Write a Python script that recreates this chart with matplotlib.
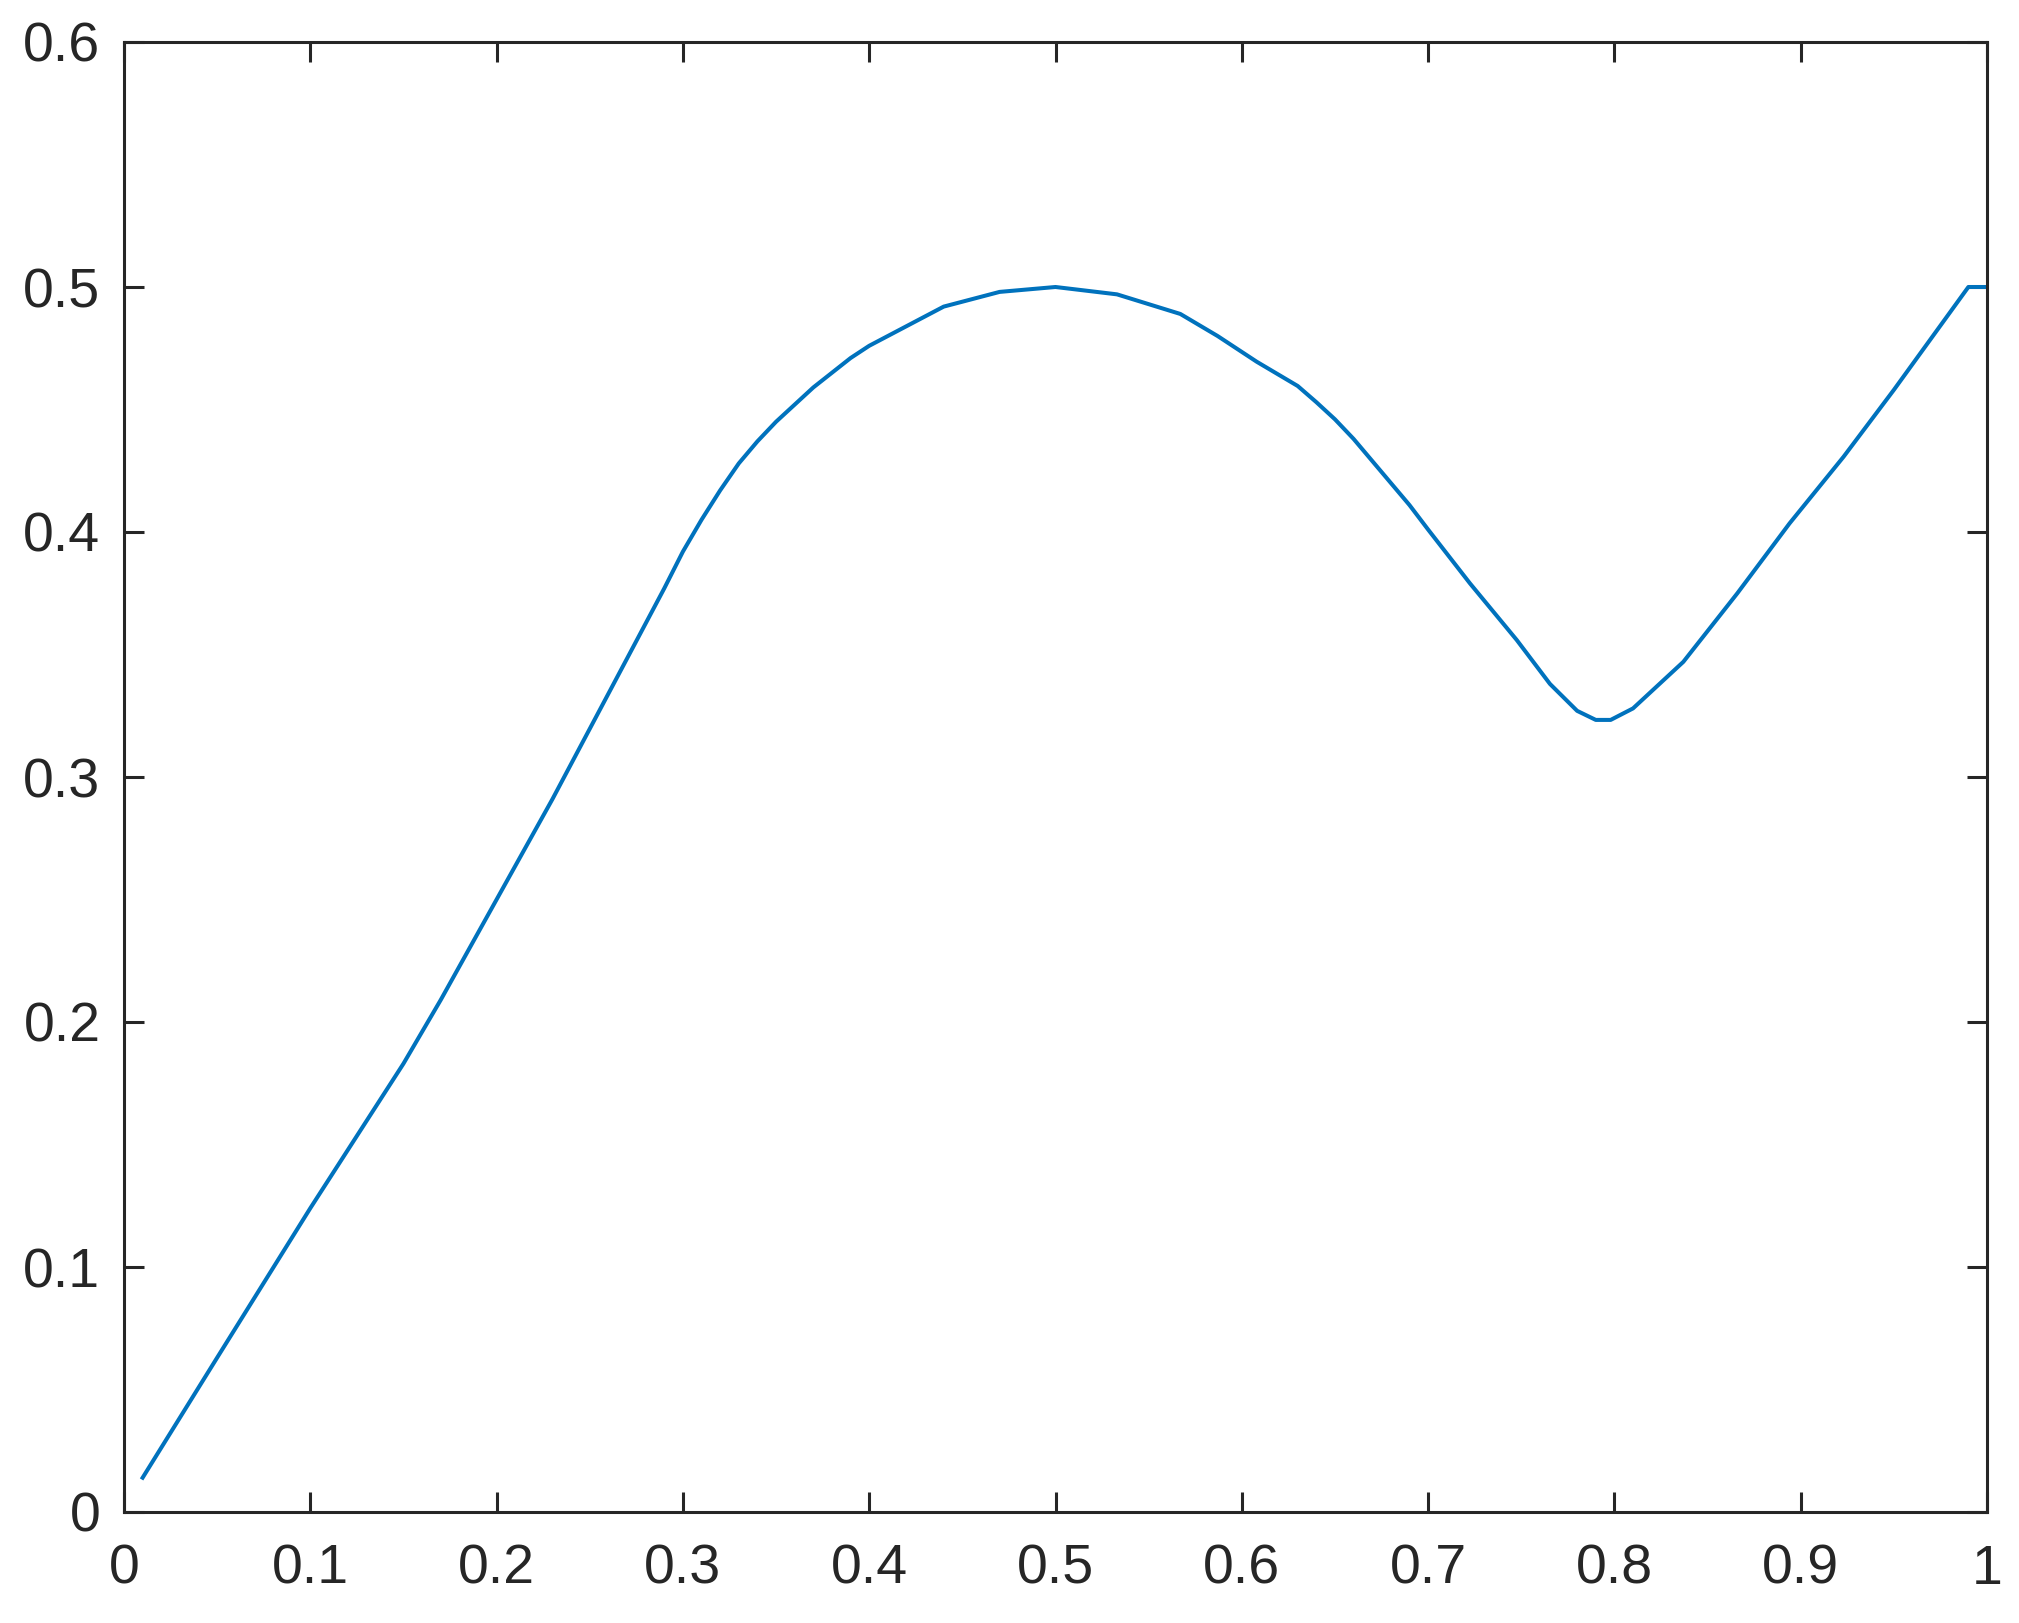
import matplotlib
matplotlib.use("Agg")
import matplotlib.pyplot as plt

x_vals = [0.01, 0.05, 0.10, 0.15, 0.17, 0.20, 0.23, 0.26, 0.29, 0.30, 0.31,
          0.32, 0.33, 0.34, 0.35, 0.36, 0.37, 0.38, 0.39, 0.40, 0.41, 0.44,
          0.47, 0.50, 0.533, 0.567, 0.587, 0.608, 0.63, 0.64, 0.65, 0.66,
          0.67, 0.68, 0.69, 0.70, 0.7225, 0.7476, 0.7654, 0.78, 0.79, 0.798,
          0.81, 0.837, 0.866, 0.894, 0.923, 0.95, 0.97, 0.99, 1.00]
y_vals = [0.014, 0.063, 0.124, 0.183, 0.209, 0.250, 0.291, 0.334, 0.377, 0.392, 0.405,
          0.417, 0.428, 0.437, 0.445, 0.452, 0.459, 0.465, 0.471, 0.476, 0.480, 0.492,
          0.498, 0.500, 0.497, 0.489, 0.480, 0.4695, 0.4596, 0.453, 0.446, 0.438,
          0.429, 0.420, 0.411, 0.401, 0.379, 0.3559, 0.338, 0.327, 0.3233, 0.3233,
          0.328, 0.347, 0.375, 0.4035, 0.4307, 0.458, 0.479, 0.500, 0.500]
x_ticks = [0, 0.1, 0.2, 0.3, 0.4, 0.5, 0.6, 0.7, 0.8, 0.9, 1]
x_labels = ["0", "0.1", "0.2", "0.3", "0.4", "0.5", "0.6", "0.7", "0.8", "0.9", "1"]
y_ticks = [0, 0.1, 0.2, 0.3, 0.4, 0.5, 0.6]
y_labels = ["0", "0.1", "0.2", "0.3", "0.4", "0.5", "0.6"]

plt.rcParams['font.family'] = ['Liberation Sans', 'DejaVu Sans']
dpi = 100
fig = plt.figure(figsize=(2019 / dpi, 1623 / dpi), dpi=dpi)
ax = fig.add_axes([124 / 2019, (1623 - 1512) / 1623, (1987 - 124) / 2019, (1512 - 42) / 1623])

ax.plot(x_vals, y_vals, color='#0072BD', linewidth=2.9, solid_joinstyle='round')

ax.set_xlim(0, 1)
ax.set_ylim(0, 0.6)
ax.set_xticks(x_ticks)
ax.set_xticklabels(x_labels)
ax.set_yticks(y_ticks)
ax.set_yticklabels(y_labels)

dark = '#262626'
for s in ax.spines.values():
    s.set_linewidth(2.2)
    s.set_color(dark)
ax.tick_params(axis='both', which='major', direction='in', length=14.4, width=2.2,
               colors=dark, labelsize=40, top=True, right=True)
ax.tick_params(axis='x', pad=23)
ax.tick_params(axis='y', pad=17)

fig.savefig("out.png", dpi=dpi, facecolor='white')
